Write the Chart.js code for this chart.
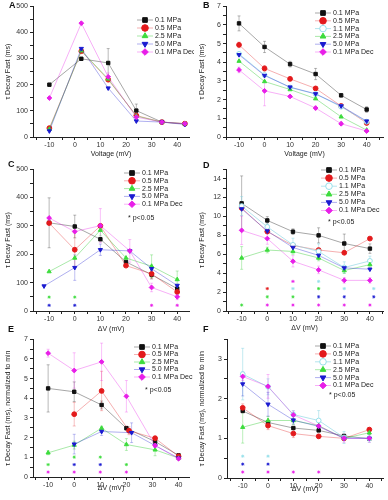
<!DOCTYPE html>
<html>
<head>
<meta charset="utf-8">
<script src="https://cdn.jsdelivr.net/npm/chart.js@4.4.0/dist/chart.umd.min.js"></script>
<style>
  body { margin: 0; background: #fff; width: 388px; height: 500px; position: relative; overflow: hidden; font-family: "Liberation Sans", Arial, sans-serif; }
  .panel { position: absolute; }
  .tag { position: absolute; font-weight: bold; font-size: 9px; color: #111; }
</style>
</head>
<body>
<div class="panel" style="left:0;top:0"><canvas id="cA" width="194" height="163"></canvas></div>
<div class="panel" style="left:194px;top:0"><canvas id="cB" width="194" height="163"></canvas></div>
<div class="panel" style="left:0;top:163px"><canvas id="cC" width="194" height="170"></canvas></div>
<div class="panel" style="left:194px;top:163px"><canvas id="cD" width="194" height="170"></canvas></div>
<div class="panel" style="left:0;top:333px"><canvas id="cE" width="194" height="167"></canvas></div>
<div class="panel" style="left:194px;top:333px"><canvas id="cF" width="194" height="167"></canvas></div>
<div class="tag" style="left:9px;top:0px">A</div>
<div class="tag" style="left:203px;top:0px">B</div>
<div class="tag" style="left:8px;top:159px">C</div>
<div class="tag" style="left:203px;top:160px">D</div>
<div class="tag" style="left:8px;top:324px">E</div>
<div class="tag" style="left:203px;top:324px">F</div>
<script>
// tick labels
const xTicks = [-10, 0, 10, 20, 30, 40];
const xMinor = [-15, -5, 5, 15, 25, 35, 45];

// A - tau decay fast vs voltage
const aVolt = [-10, 2.5, 13, 24, 34, 43];
const a01 = [200, 299, 283, 101, 57, 50];
const a05 = [34, 328, 219, 82, 57, 51];
const a25 = [30, 330, 222, 80, 57, 51];
const a50 = [23, 338, 187, 61, 57, 48];
const a01Dec = [149, 435, 230, 76, 57, 51];
const a01Err = [0, 0, 55, 25, 0, 0];
const a01DecErr = [0, 0, 15, 10, 0, 0];
const aYTicks = [0, 100, 200, 300, 400, 500];

// B
const bVolt = [-10, 0, 10, 20, 30, 40];
const b01 = [6.08, 4.82, 3.9, 3.37, 2.23, 1.47];
const b05 = [4.93, 3.67, 3.11, 2.6, 1.66, 0.75];
const b11 = [4.45, 3.32, 2.65, 2.3, 1.62, 0.82];
const b25 = [4.06, 2.97, 2.54, 2.05, 1.08, 0.37];
const b50 = [4.4, 3.29, 2.67, 2.31, 1.66, 0.85];
const b01Dec = [3.59, 2.47, 2.17, 1.55, 0.71, 0.32];
const b01Err = [0.4, 0.3, 0.15, 0.3, 0.1, 0.15];
const b05Err = [0.15, 0.15, 0.1, 0.1, 0.05, 0.05];
const b01DecErr = [0.15, 0.8, 0.05, 0.1, 0.1, 0.05];
const bYTicks = [0, 1, 2, 3, 4, 5, 6, 7];

// C
const cVolt = [-10, 0, 10, 20, 30, 40];
const cVoltB = [-12, 0, 10, 21.5, 30, 40];
const cVoltDec = [-10, 0, 10, 21.5, 30, 40];
const c01 = [311, 298, 253, 173, 128, 79];
const c05 = [310, 216, 300, 160, 131, 67];
const c25 = [139, 187, 285, 187, 158, 111];
const c50 = [88, 153, 216, 212, 149, 90];
const c01Dec = [328, 280, 301, 212, 83, 50];
const c01Err = [88, 40, 0, 0, 15, 10];
const c05Err = [0, 60, 0, 0, 15, 0];
const c25Err = [0, 0, 20, 0, 40, 30];
const c50Err = [0, 45, 20, 0, 0, 0];
const c01DecErr = [0, 0, 60, 40, 15, 10];
const cSigX = [-10, -10, 0, 0, 30, 40];
const cSigY = [49, 20, 49, 20, 20, 20];
const cSigWho = ['2.5 MPa', '5.0 MPa', '2.5 MPa', '5.0 MPa', '0.1 MPa Dec', '0.1 MPa Dec'];
const cYTicks = [0, 100, 200, 300, 400, 500];

// D
const dVolt = [-10, 0, 10, 20, 30, 40];
const d01 = [11.39, 9.58, 8.39, 8.0, 7.14, 6.6];
const d05 = [10.9, 8.4, 6.93, 6.45, 6.16, 7.66];
const d11 = [11.1, 8.9, 7.0, 6.3, 4.6, 5.3];
const d25 = [5.61, 6.45, 6.3, 5.61, 4.28, 4.91];
const d50 = [10.8, 8.46, 6.72, 5.88, 4.56, 4.42];
const d01Dec = [8.53, 7.66, 5.26, 4.35, 3.24, 3.24];
const d01Err = [2.9, 0.4, 0.3, 0.8, 1.0, 0.5];
const d11Err = [1.0, 0.5, 0.7, 0.8, 0.6, 0.5];
const d25Err = [1.2, 0.3, 0.3, 0.3, 0.3, 0.4];
const d01DecErr = [1.5, 0.6, 0.6, 0.4, 0.3, 0.3];
const dSigX = [-10, 0, 0, 0, 10, 10, 10, 10, 20, 20, 20, 20, 30, 30, 30, 41.5, 41.5, 40];
const dSigY = [0.63, 2.37, 1.5, 0.63, 3.13, 2.37, 1.5, 0.63, 3.13, 2.37, 1.5, 0.63, 2.37, 1.5, 0.63, 2.37, 1.5, 0.63];
const dSigWho = ['2.5 MPa', '0.5 MPa', '2.5 MPa', '0.1 MPa Dec', '0.1 MPa Dec', '1.1 MPa', '2.5 MPa', '0.1 MPa Dec',
  '1.1 MPa', '2.5 MPa', '5.0 MPa', '0.1 MPa Dec', '1.1 MPa', '5.0 MPa', '0.1 MPa Dec', '1.1 MPa', '5.0 MPa', '0.1 MPa Dec'];
const dYTicks = [0, 2, 4, 6, 8, 10, 12, 14];

// E - normalized to min
const eVolt = [-10, 0, 10.5, 20, 31, 40];
const eVoltR = [-10, 0, 10.5, 21, 31, 40];
const eVoltB = [-10, 0, 10.5, 22, 31, 40];
const e01 = [4.5, 4.33, 3.66, 2.48, 1.8, 1.1];
const e05 = [null, 3.19, 4.37, 2.35, 1.97, 1.05];
const e25 = [1.23, 1.62, 2.48, 1.65, 1.38, 0.96];
const e50 = [null, 1.67, 2.31, 2.25, 1.6, 0.96];
const e01Dec = [6.29, 5.41, 5.85, 4.1, 1.6, 0.93];
const e01Err = [1.2, 0.5, 0.2, 0.1, 0.1, 0.05];
const e05Err = [0, 0.6, 1.0, 0.2, 0.1, 0.05];
const e25Err = [0.1, 0.2, 0.1, 0.3, 0.3, 0.1];
const e50Err = [0, 0.5, 0.2, 0.5, 0.1, 0.05];
const e01DecErr = [0.2, 0.9, 0.95, 0.8, 0.1, 0.05];
const eSigX = [-10, -10, 0, 0, 0, 10, 10, 10, 20, 20];
const eSigY = [0.63, 0.25, 1.01, 0.63, 0.25, 1.01, 0.63, 0.25, 0.63, 0.25];
const eSigWho = ['2.5 MPa', '0.1 MPa Dec', '2.5 MPa', '5.0 MPa', '0.1 MPa Dec', '2.5 MPa', '5.0 MPa', '0.1 MPa Dec', '2.5 MPa', '0.1 MPa Dec'];
const eYTicks = [0, 1, 2, 3, 4, 5, 6, 7];

// F
const fVolt = [-10, 0, 10, 20, 30, 40];
const f01 = [1.69, 1.4, 1.26, 1.2, 1.06, 0.99];
const f05 = [1.77, 1.32, 1.12, 1.05, 1.0, 1.22];
const f11 = [2.62, 2.3, 1.6, 1.45, 1.02, 1.0];
const f25 = [1.28, 1.45, 1.45, 1.32, 1.0, 1.14];
const f50 = [2.37, 1.86, 1.46, 1.3, 1.0, 1.0];
const f01Dec = [2.56, 2.31, 1.59, 1.31, 1.0, 1.0];
const f05Err = [0.1, 0.1, 0.1, 0.05, 0.05, 0.05];
const f11Err = [0.65, 0.2, 0.1, 0.25, 0.15, 0.1];
const f25Err = [0.4, 0.1, 0.1, 0.1, 0.05, 0.05];
const f50Err = [0.3, 0.3, 0.1, 0.1, 0.05, 0.05];
const f01DecErr = [0.1, 0.3, 0.1, 0.1, 0.1, 0.1];
const fSigX = [-10, -10, -10, 0, 0, 0, 10, 20];
const fSigY = [0.55, 0.35, 0.15, 0.55, 0.35, 0.15, 0.15, 0.15];
const fSigWho = ['1.1 MPa', '5.0 MPa', '0.1 MPa Dec', '1.1 MPa', '5.0 MPa', '0.1 MPa Dec', '0.1 MPa Dec', '0.1 MPa Dec'];
const fYTicks = [0, 1, 2, 3];

const styles = {
  '0.1 MPa':     { color: '#111111', fill: '#111111', line: 'rgba(0,0,0,0.35)', shape: 'rect' },
  '0.5 MPa':     { color: '#e31a1c', fill: '#e31a1c', line: 'rgba(227,26,28,0.35)', shape: 'circle' },
  '1.1 MPa':     { color: '#96dfea', fill: '#ffffff', line: 'rgba(130,210,225,0.6)', shape: 'circle' },
  '2.5 MPa':     { color: '#3cdc3c', fill: '#3cdc3c', line: 'rgba(40,200,40,0.4)', shape: 'triangle' },
  '5.0 MPa':     { color: '#1a1ad0', fill: '#1a1ad0', line: 'rgba(26,26,208,0.35)', shape: 'triangle', rot: 180 },
  '0.1 MPa Dec': { color: '#e81ee8', fill: '#e81ee8', line: 'rgba(232,30,232,0.35)', shape: 'rectRot' }
};

const FONT = '"Liberation Sans", Arial, sans-serif';

const errBars = {
  id: 'errBars',
  beforeDatasetsDraw(chart) {
    const ctx = chart.ctx, x = chart.scales.x, y = chart.scales.y;
    ctx.save();
    chart.data.datasets.forEach(ds => {
      if (!ds.err) return;
      ctx.strokeStyle = ds.borderColor;
      ctx.lineWidth = 0.8;
      ds.data.forEach((p, i) => {
        const e = ds.err[i];
        if (!e || p.y == null) return;
        const px = x.getPixelForValue(p.x);
        const y1 = y.getPixelForValue(p.y + e), y2 = y.getPixelForValue(p.y - e);
        ctx.beginPath();
        ctx.moveTo(px, y1); ctx.lineTo(px, y2);
        ctx.moveTo(px - 1.5, y1); ctx.lineTo(px + 1.5, y1);
        ctx.moveTo(px - 1.5, y2); ctx.lineTo(px + 1.5, y2);
        ctx.stroke();
      });
    });
    ctx.restore();
  }
};

const miniLegend = {
  id: 'miniLegend',
  afterDraw(chart, args, opts) {
    if (!opts || opts.x == null) return;
    const ctx = chart.ctx;
    ctx.save();
    ctx.font = '7px ' + FONT;
    ctx.textBaseline = 'middle';
    let row = 0;
    chart.data.datasets.forEach(ds => {
      if (ds.isSig) return;
      const st = styles[ds.label];
      const y = opts.y + row * opts.dy;
      ctx.strokeStyle = st.line;
      ctx.lineWidth = 1;
      ctx.beginPath(); ctx.moveTo(opts.x - 8, y); ctx.lineTo(opts.x + 8, y); ctx.stroke();
      ctx.fillStyle = st.fill;
      ctx.strokeStyle = st.color;
      Chart.helpers.drawPoint(ctx, { pointStyle: st.shape, radius: 3.3, rotation: st.rot || 0, borderWidth: 1 }, opts.x, y);
      ctx.fillStyle = '#222';
      ctx.fillText(ds.label, opts.x + 10, y);
      row++;
    });
    if (opts.sigY) ctx.fillText('* p<0.05', opts.sigX, opts.sigY);
    ctx.restore();
  }
};

function makePanel(id, cfg) {
  const datasets = cfg.series.map((s, idx) => {
    const st = styles[s[0]];
    return {
      label: s[0],
      data: s[1].map((v, i) => ({ x: v, y: s[2][i] })),
      err: s[3],
      borderColor: st.line,
      borderWidth: 1,
      pointStyle: st.shape,
      pointRotation: st.rot || 0,
      pointRadius: 2.4,
      pointBackgroundColor: st.fill,
      pointBorderColor: st.color,
      pointBorderWidth: 1,
      spanGaps: true,
      order: -idx
    };
  });
  if (cfg.sig) {
    datasets.push({
      label: 'sig', isSig: true, showLine: false,
      data: cfg.sig[0].map((v, i) => ({ x: v, y: cfg.sig[1][i] })),
      pointStyle: 'star', pointRadius: 1.6, pointBorderWidth: 0.8,
      pointBorderColor: cfg.sig[2].map(n => styles[n].color),
      order: 10
    });
  }
  const tickFont = { family: FONT, size: 7 };
  const titleFont = { family: FONT, size: 7 };
  new Chart(document.getElementById(id), {
    type: 'line',
    data: { datasets: datasets },
    plugins: [errBars, miniLegend],
    options: {
      responsive: false,
      animation: false,
      layout: { padding: cfg.pad },
      plugins: { legend: { display: false }, tooltip: { enabled: false }, miniLegend: cfg.legend },
      scales: {
        x: {
          type: 'linear', min: cfg.xMin, max: cfg.xMax,
          afterBuildTicks: s => { s.ticks = xTicks.concat(xMinor).filter(v => v >= cfg.xMin && v <= cfg.xMax).map(v => ({ value: v })); },
          afterFit: s => { s.height = cfg.xH; },
          ticks: { callback: v => xTicks.includes(v) ? v : '', font: tickFont, color: '#333', padding: 1, maxRotation: 0, autoSkip: false },
          grid: { drawOnChartArea: false, tickLength: 3, tickColor: '#222' },
          border: { color: '#222', width: 1 },
          title: { display: true, text: cfg.xTitle, font: titleFont, color: '#222', padding: { top: 0, bottom: cfg.xTitlePad } }
        },
        y: {
          type: 'linear', min: 0, max: cfg.yMax,
          afterBuildTicks: s => {
            const t = cfg.yTicks, step = t[1] - t[0], list = t.slice();
            t.forEach(v => { if (v + step / 2 <= cfg.yMax) list.push(v + step / 2); });
            s.ticks = list.map(v => ({ value: v }));
          },
          afterFit: s => { s.width = cfg.yW; },
          ticks: { callback: v => cfg.yTicks.includes(v) ? v : '', font: tickFont, color: '#333', padding: 2, autoSkip: false },
          grid: { drawOnChartArea: false, tickLength: 3, tickColor: '#222' },
          border: { color: '#222', width: 1 },
          title: { display: true, text: cfg.yTitle, font: titleFont, color: '#222', padding: { top: 4, bottom: 0 } }
        }
      }
    }
  });
}

const yTitle = 'τ Decay Fast (ms)';
const yTitleNorm = 'τ Decay Fast (ms), normalized to min';

makePanel('cA', {
  xMin: -16.4, xMax: 44.6, yMax: 500, yTicks: aYTicks, xTitle: 'Voltage (mV)', yTitle: yTitle,
  pad: { left: 0, top: 5, right: 2, bottom: 0 }, yW: 33, xH: 26, xTitlePad: 5,
  series: [['0.1 MPa', aVolt, a01, a01Err], ['0.5 MPa', aVolt, a05], ['2.5 MPa', aVolt, a25], ['5.0 MPa', aVolt, a50], ['0.1 MPa Dec', aVolt, a01Dec, a01DecErr]],
  legend: { x: 145, y: 20, dy: 8 }
});

makePanel('cB', {
  xMin: -15.1, xMax: 46.4, yMax: 7, yTicks: bYTicks, xTitle: 'Voltage (mV)', yTitle: yTitle,
  pad: { left: 0, top: 5, right: 2, bottom: 0 }, yW: 32, xH: 26, xTitlePad: 5,
  series: [['0.1 MPa', bVolt, b01, b01Err], ['0.5 MPa', bVolt, b05, b05Err], ['1.1 MPa', bVolt, b11], ['2.5 MPa', bVolt, b25], ['5.0 MPa', bVolt, b50], ['0.1 MPa Dec', bVolt, b01Dec, b01DecErr]],
  legend: { x: 129, y: 13, dy: 7.8 }
});

makePanel('cC', {
  xMin: -16.3, xMax: 44.6, yMax: 500, yTicks: cYTicks, xTitle: 'ΔV (mV)', yTitle: yTitle,
  pad: { left: 0, top: 5, right: 1, bottom: 0 }, yW: 33, xH: 22, xTitlePad: 0,
  series: [['0.1 MPa', cVolt, c01, c01Err], ['0.5 MPa', cVolt, c05, c05Err], ['2.5 MPa', cVolt, c25, c25Err], ['5.0 MPa', cVoltB, c50, c50Err], ['0.1 MPa Dec', cVoltDec, c01Dec, c01DecErr]],
  sig: [cSigX, cSigY, cSigWho],
  legend: { x: 132, y: 10, dy: 7.8, sigX: 128, sigY: 55 }
});

makePanel('cD', {
  xMin: -16.1, xMax: 45.1, yMax: 15, yTicks: dYTicks, xTitle: 'ΔV (mV)', yTitle: yTitle,
  pad: { left: 0, top: 4, right: 1, bottom: 0 }, yW: 32, xH: 22, xTitlePad: 1,
  series: [['0.1 MPa', dVolt, d01, d01Err], ['0.5 MPa', dVolt, d05], ['1.1 MPa', dVolt, d11, d11Err], ['2.5 MPa', dVolt, d25, d25Err], ['5.0 MPa', dVolt, d50], ['0.1 MPa Dec', dVolt, d01Dec, d01DecErr]],
  sig: [dSigX, dSigY, dSigWho],
  legend: { x: 135, y: 7, dy: 8.1, sigX: 134, sigY: 59 }
});

makePanel('cE', {
  xMin: -15.8, xMax: 44, yMax: 7, yTicks: eYTicks, xTitle: 'ΔV (mV)', yTitle: yTitleNorm,
  pad: { left: 0, top: 5, right: 2, bottom: 0 }, yW: 33, xH: 23, xTitlePad: 8,
  series: [['0.1 MPa', eVolt, e01, e01Err], ['0.5 MPa', eVoltR, e05, e05Err], ['2.5 MPa', eVolt, e25, e25Err], ['5.0 MPa', eVoltB, e50, e50Err], ['0.1 MPa Dec', eVolt, e01Dec, e01DecErr]],
  sig: [eSigX, eSigY, eSigWho],
  legend: { x: 142, y: 14, dy: 7.5, sigX: 145, sigY: 57 }
});

makePanel('cF', {
  xMin: -16.2, xMax: 45.4, yMax: 3.5, yTicks: fYTicks, xTitle: 'ΔV (mV)', yTitle: yTitleNorm,
  pad: { left: 0, top: 5, right: 1, bottom: 0 }, yW: 33, xH: 22, xTitlePad: 7,
  series: [['0.1 MPa', fVolt, f01], ['0.5 MPa', fVolt, f05, f05Err], ['1.1 MPa', fVolt, f11, f11Err], ['2.5 MPa', fVolt, f25, f25Err], ['5.0 MPa', fVolt, f50, f50Err], ['0.1 MPa Dec', fVolt, f01Dec, f01DecErr]],
  sig: [fSigX, fSigY, fSigWho],
  legend: { x: 129, y: 13, dy: 7.9, sigX: 135, sigY: 62 }
});
</script>
</body>
</html>
